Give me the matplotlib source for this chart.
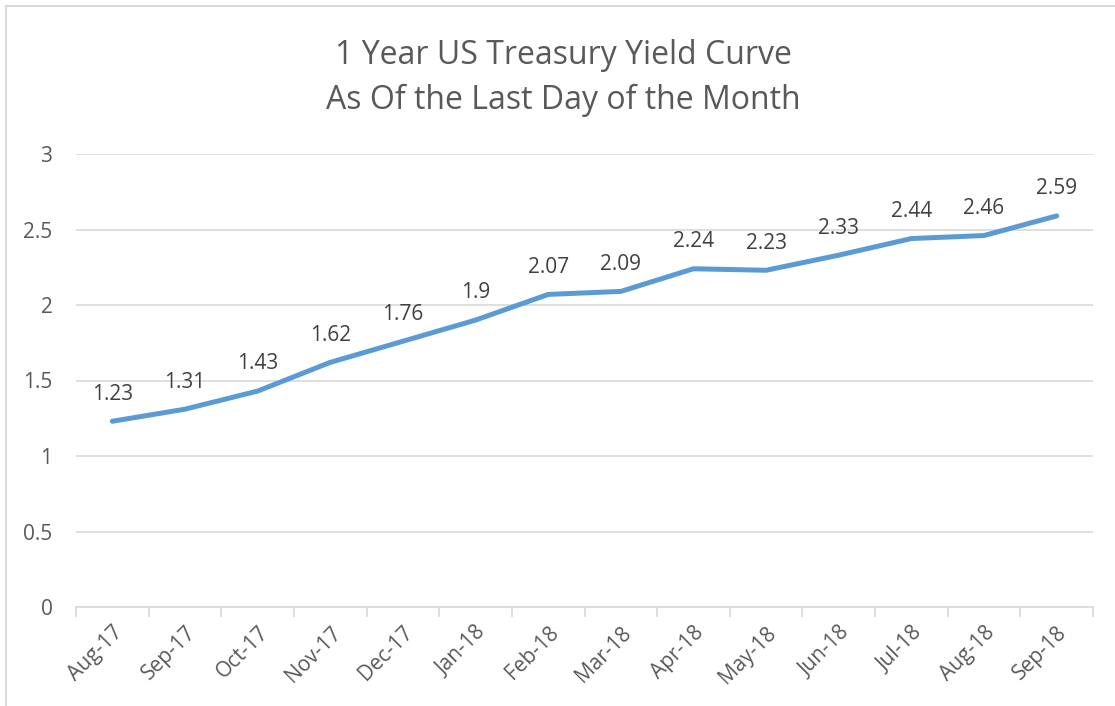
import matplotlib
matplotlib.use("Agg")
import matplotlib.pyplot as plt
from matplotlib.lines import Line2D

months = ["Aug-17", "Sep-17", "Oct-17", "Nov-17", "Dec-17", "Jan-18", "Feb-18",
          "Mar-18", "Apr-18", "May-18", "Jun-18", "Jul-18", "Aug-18", "Sep-18"]
yields = [1.23, 1.31, 1.43, 1.62, 1.76, 1.9, 2.07, 2.09, 2.24, 2.23, 2.33, 2.44, 2.46, 2.59]
yticks = [0, 0.5, 1, 1.5, 2, 2.5, 3]
ytick_labels = ["0", "0.5", "1", "1.5", "2", "2.5", "3"]

plt.rcParams['font.family'] = ['Open Sans', 'DejaVu Sans']
W, H = 1115, 706
fig = plt.figure(figsize=(W / 100, H / 100), dpi=100)
ax = fig.add_axes([76 / W, 1 - 607 / H, (1093 - 76) / W, (607 - 154) / H])

text_color = "#595959"
grid_color = "#D9D9D9"

x = list(range(len(months)))
ax.plot(x, yields, color="#5B9BD5", linewidth=3.6, solid_capstyle="round", zorder=3)
for xi, yi in zip(x, yields):
    ax.annotate(f"{yi:g}", (xi, yi), xytext=(0, 12), textcoords="offset points",
                ha="center", va="bottom", fontsize=15, color="#404040")

ax.set_xlim(-0.5, len(months) - 0.5)
ax.set_ylim(0, 3)
ax.set_yticks(yticks)
ax.set_yticklabels(ytick_labels)
ax.yaxis.grid(True, color=grid_color, linewidth=1.2)
ax.set_axisbelow(True)
ax.tick_params(axis="y", length=0, pad=17, labelsize=15, labelcolor=text_color)

ax.set_xticks(x)
ax.set_xticklabels(months, rotation=45, ha="right", rotation_mode="anchor")
ax.tick_params(axis="x", which="major", length=0, pad=11, labelsize=15, labelcolor=text_color)
ax.set_xticks([i - 0.5 for i in range(len(months) + 1)], minor=True)
ax.tick_params(axis="x", which="minor", length=7, width=1.2, color=grid_color, direction="out")

for s in ["top", "right", "left"]:
    ax.spines[s].set_visible(False)
ax.spines["bottom"].set_color(grid_color)
ax.spines["bottom"].set_linewidth(1.2)

fig.text(563 / W, 1 - 55 / H, "1 Year US Treasury Yield Curve", ha="center", va="center",
         fontsize=23, color=text_color)
fig.text(563 / W, 1 - 100 / H, "As Of the Last Day of the Month", ha="center", va="center",
         fontsize=23, color=text_color)

# chart border (left and top visible)
fig.add_artist(Line2D([6 / W, 6 / W], [0, 1 - 6 / H], transform=fig.transFigure,
                      color=grid_color, linewidth=1.5))
fig.add_artist(Line2D([6 / W, 1], [1 - 6 / H, 1 - 6 / H], transform=fig.transFigure,
                      color=grid_color, linewidth=1.5))

fig.savefig("out.png", dpi=100)
